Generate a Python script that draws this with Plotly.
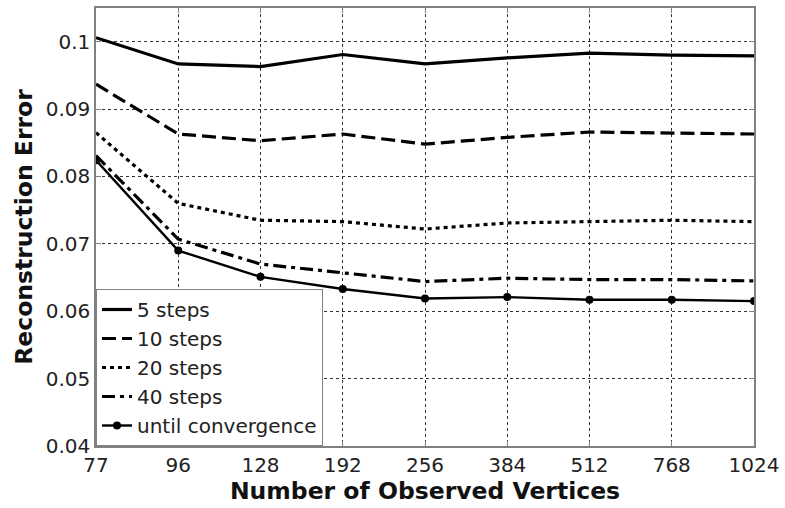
import plotly.graph_objects as go

x_labels = ["77", "96", "128", "192", "256", "384", "512", "768", "1024"]

steps5 = [0.1006, 0.0967, 0.0963, 0.0981, 0.0967, 0.0976, 0.0983, 0.0980, 0.0979]
steps10 = [0.0937, 0.0863, 0.0853, 0.0863, 0.0848, 0.0858, 0.0866, 0.0864, 0.0863]
steps20 = [0.0865, 0.0760, 0.0735, 0.0733, 0.0722, 0.0731, 0.0733, 0.0735, 0.0733]
steps40 = [0.0831, 0.0707, 0.0670, 0.0657, 0.0644, 0.0649, 0.0647, 0.0647, 0.0645]
converge = [0.0824, 0.0690, 0.0651, 0.0633, 0.0619, 0.0621, 0.0617, 0.0617, 0.0615]

y_tickvals = [0.04, 0.05, 0.06, 0.07, 0.08, 0.09, 0.1]
y_ticktext = ["0.04", "0.05", "0.06", "0.07", "0.08", "0.09", "0.1"]

series = [
    ("5 steps", steps5, "solid", 3.2, False),
    ("10 steps", steps10, "14px,6px", 3.2, False),
    ("20 steps", steps20, "4px,4px", 3.2, False),
    ("40 steps", steps40, "13px,5px,4px,5px", 3.2, False),
    ("until convergence", converge, "solid", 2.4, True),
]

fig = go.Figure()
for name, vals, dash, w, mk in series:
    fig.add_trace(go.Scatter(
        x=x_labels, y=vals, name=name,
        mode="lines+markers" if mk else "lines",
        line=dict(color="black", width=w, dash=dash),
        marker=dict(symbol="circle", size=8, color="black"),
    ))

font_family = "DejaVu Sans, Liberation Sans, Arial, sans-serif"
fig.update_layout(
    width=785, height=508, autosize=False,
    margin=dict(l=96, r=30, t=6, b=62),
    paper_bgcolor="white", plot_bgcolor="white",
    font=dict(family=font_family, color="#222222", size=20),
    showlegend=True,
    legend=dict(
        x=0, y=0, xanchor="left", yanchor="bottom",
        bgcolor="white", bordercolor="#808080", borderwidth=1,
        font=dict(size=20, color="#222222"),
        itemwidth=30, tracegroupgap=0,
    ),
    xaxis=dict(
        type="category", range=[0, 8],
        showgrid=True, gridcolor="#333333", griddash="dot", gridwidth=1,
        showline=True, linecolor="#808080", linewidth=1.5, mirror="ticks",
        ticks="inside", ticklen=5, tickcolor="#808080",
        tickfont=dict(size=20, color="#222222"),
        title=dict(text="<b>Number of Observed Vertices</b>",
                   font=dict(size=23.5, color="#111111"), standoff=6),
        zeroline=False,
    ),
    yaxis=dict(
        range=[0.04, 0.105],
        tickvals=y_tickvals, ticktext=y_ticktext,
        showgrid=True, gridcolor="#333333", griddash="dot", gridwidth=1,
        showline=True, linecolor="#808080", linewidth=1.5, mirror="ticks",
        ticks="inside", ticklen=5, tickcolor="#808080",
        tickfont=dict(size=20, color="#222222"),
        title=dict(text="<b>Reconstruction Error</b>",
                   font=dict(size=23.5, color="#111111"), standoff=6),
        zeroline=False,
    ),
)

fig.write_html("out.html")
